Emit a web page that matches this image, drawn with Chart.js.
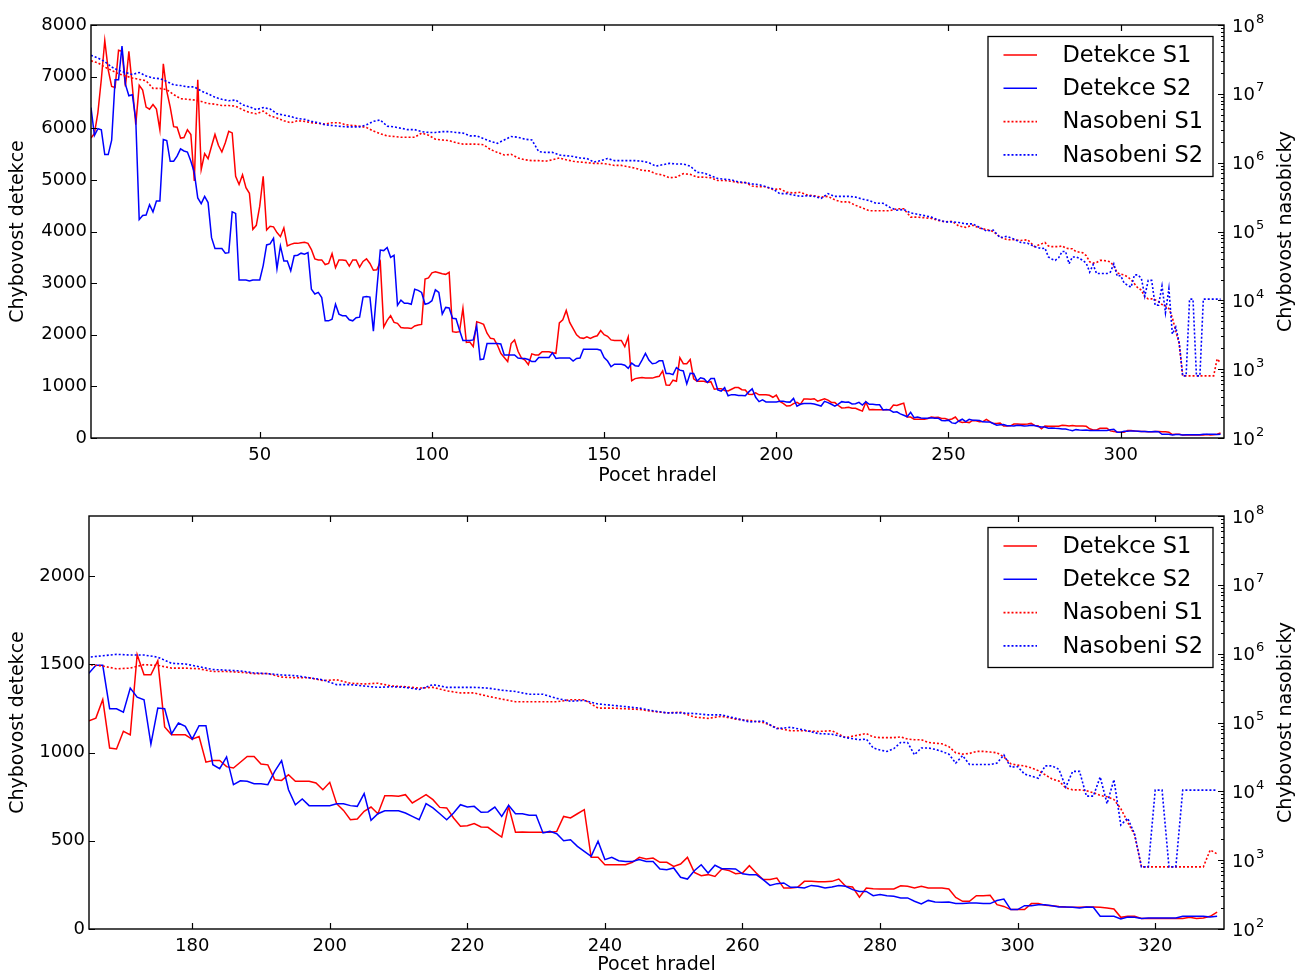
<!DOCTYPE html>
<html>
<head>
<meta charset="utf-8">
<title>Chybovost detekce / nasobicky</title>
<script src="https://cdn.jsdelivr.net/npm/chart.js@4.4.1/dist/chart.umd.min.js"></script>
<style>
  body { margin: 0; background: #fff; }
  .box { position: absolute; left: 0; width: 1298px; height: 488px; }
</style>
</head>
<body>
<div class="box" style="top:0"><canvas id="top" width="1298" height="488"></canvas></div>
<div class="box" style="top:488px"><canvas id="bottom" width="1298" height="488"></canvas></div>
<script>
// pocet hradel 1..329 (Detekce S1 / S2)
const pocet = [];
for (let i = 1; i <= 329; i++) pocet.push(i);

const detekceS1 = [
  5810, 5900, 6300, 6950, 7700, 7130, 6810, 6790, 7510, 7490,
  6810, 7490, 6810, 6070, 6830, 6740, 6410, 6370, 6460, 6370,
  5970, 7250, 6720, 6410, 6030, 6020, 5810, 5820, 5970, 5880,
  4980, 6940, 5200, 5510, 5410, 5650, 5880, 5670, 5540, 5720,
  5940, 5910, 5070, 4910, 5100, 4850, 4740, 4040, 4120, 4490,
  5070, 4030, 4100, 4090, 3980, 3900, 4070, 3720, 3750, 3770,
  3770, 3780, 3790, 3770, 3650, 3470, 3450, 3450, 3360, 3380,
  3570, 3300, 3450, 3450, 3440, 3330, 3450, 3450, 3310, 3420,
  3470, 3380, 3250, 3260, 3410, 2150, 2280, 2370, 2240, 2220,
  2140, 2130, 2130, 2120, 2170, 2190, 2200, 3080, 3100, 3200,
  3220, 3200, 3180, 3170, 3210, 2060, 2050, 2060, 2510, 1850,
  1860, 1770, 2250, 2230, 2200, 2030, 1930, 1920, 1800, 1640,
  1560, 1480, 1830, 1900, 1680, 1550, 1510, 1420, 1630, 1610,
  1610, 1670, 1670, 1670, 1650, 1640, 2230, 2290, 2470, 2240,
  2120, 2000, 1940, 1930, 1960, 1930, 1960, 1980, 2080, 2000,
  1970, 1900, 1890, 1890, 1890, 1770, 1960, 1110, 1150, 1160,
  1170, 1160, 1160, 1160, 1180, 1195, 1300, 1025, 1020, 1120,
  1100, 1555, 1440, 1440, 1520, 1145, 1100, 1100, 1100, 1075,
  1090, 945, 955, 955, 920, 912, 945, 978, 978, 935,
  930, 846, 842, 874, 837, 837, 837, 827, 789, 831,
  710, 672, 619, 623, 667, 691, 653, 755, 755, 752,
  761, 714, 737, 761, 733, 689, 686, 629, 582, 585,
  597, 578, 576, 548, 521, 695, 548, 550, 548, 548,
  548, 548, 553, 638, 629, 653, 676, 406, 406, 364,
  364, 364, 364, 378, 406, 397, 402, 378, 378, 355,
  368, 406, 321, 302, 308, 298, 340, 332, 313, 317,
  359, 317, 280, 280, 289, 232, 232, 236, 270, 270,
  268, 268, 270, 283, 242, 238, 180, 232, 228, 227,
  227, 227, 245, 242, 232, 242, 232, 232, 232, 227,
  179, 157, 157, 189, 189, 191, 138, 128, 110, 110,
  110, 144, 144, 134, 132, 128, 125, 123, 123, 125,
  125, 123, 119, 113, 66, 72, 72, 60, 59, 59,
  59, 59, 59, 59, 66, 59, 62, 72, 96
];

const detekceS2 = [
  6400, 5860, 5990, 5970, 5490, 5490, 5770, 6940, 6940, 7590,
  6850, 6630, 6650, 6170, 4230, 4310, 4320, 4520, 4380, 4590,
  4590, 5780, 5760, 5360, 5360, 5460, 5600, 5560, 5540, 5360,
  5140, 4650, 4540, 4680, 4560, 3880, 3670, 3670, 3670, 3580,
  3590, 4380, 4350, 3060, 3060, 3060, 3040, 3060, 3060, 3060,
  3340, 3740, 3760, 3870, 3280, 3720, 3430, 3430, 3240, 3530,
  3540, 3580, 3560, 3590, 2880, 2790, 2820, 2720, 2270, 2270,
  2300, 2590, 2400, 2370, 2370, 2290, 2270, 2330, 2340, 2730,
  2740, 2730, 2070, 2880, 3640, 3630, 3690, 3500, 3540, 2570,
  2670, 2610, 2610, 2590, 2880, 2860, 2820, 2590, 2610, 2660,
  2870, 2820, 2400, 2530, 2520, 2320, 2310, 2090, 1890, 1890,
  1890, 1900, 2170, 1520, 1530, 1830, 1830, 1830, 1830, 1820,
  1610, 1610, 1610, 1610, 1550, 1540, 1540, 1520, 1480, 1480,
  1560, 1560, 1560, 1560, 1650, 1540, 1550, 1550, 1550, 1550,
  1490, 1540, 1550, 1720, 1720, 1720, 1720, 1720, 1700, 1560,
  1490, 1380, 1430, 1430, 1430, 1410, 1350, 1450, 1400, 1390,
  1510, 1640, 1510, 1440, 1450, 1494, 1494, 1248, 1248, 1228,
  1365, 1314, 1299, 1048, 1252, 1248, 1105, 1167, 1148, 1076,
  1152, 1152, 931, 908, 975, 818, 840, 837, 823, 823,
  818, 893, 954, 789, 704, 737, 699, 699, 699, 699,
  710, 710, 699, 695, 767, 616, 653, 670, 670, 670,
  657, 638, 619, 710, 686, 653, 619, 657, 704, 691,
  695, 661, 663, 691, 638, 701, 653, 653, 644, 644,
  544, 553, 540, 500, 506, 468, 440, 412, 497, 393,
  406, 387, 383, 383, 393, 383, 383, 340, 336, 346,
  293, 283, 330, 364, 317, 361, 342, 342, 340, 313,
  308, 308, 280, 247, 257, 261, 236, 236, 232, 247,
  242, 232, 238, 247, 242, 223, 213, 213, 189, 195,
  189, 185, 176, 176, 157, 142, 162, 153, 151, 153,
  144, 144, 147, 147, 144, 144, 161, 170, 110, 110,
  132, 132, 138, 138, 132, 125, 125, 123, 119, 125,
  123, 72, 72, 72, 57, 68, 66, 59, 62, 62,
  62, 62, 62, 72, 72, 72, 72, 68, 72
];

// Nasobeni: odd x up to 277, then every x
const nasX = [
  1, 3, 5, 7, 9, 11, 13, 15, 17, 19, 21, 23, 25, 27, 29, 31, 33, 35, 37, 39,
  41, 43, 45, 47, 49, 51, 53, 55, 57, 59, 61, 63, 65, 67, 69, 71, 73, 75, 77, 79,
  81, 83, 85, 87, 89, 91, 93, 95, 97, 99, 101, 103, 105, 107, 109, 111, 113, 115, 117, 119,
  121, 123, 125, 127, 129, 131, 133, 135, 137, 139, 141, 143, 145, 147, 149, 151, 153, 155, 157, 159,
  161, 163, 165, 167, 169, 171, 173, 175, 177, 179, 181, 183, 185, 187, 189, 191, 193, 195, 197, 199,
  201, 203, 205, 207, 209, 211, 213, 215, 217, 219, 221, 223, 225, 227, 229, 231, 233, 235, 237, 239,
  241, 243, 245, 247, 249, 251, 253, 255, 257, 259, 261, 263, 265, 267, 269, 271, 273, 275, 277,
  278, 279, 280, 281, 282, 283, 284, 285, 286, 287, 288, 289, 290, 291, 292, 293, 294, 295, 296, 297,
  298, 299, 300, 301, 302, 303, 304, 305, 306, 307, 308, 309, 310, 311, 312, 313, 314, 315, 316, 317,
  318, 319, 320, 321, 322, 323, 324, 325, 326, 327, 328, 329
];

const nasobeniS1 = [
  3.02e7, 2.82e7, 2.45e7, 2.19e7, 1.95e7, 1.82e7, 1.70e7, 1.62e7, 1.55e7, 1.20e7,
  1.20e7, 1.15e7, 9.77e6, 8.51e6, 8.32e6, 8.13e6, 7.76e6, 7.24e6, 7.08e6, 6.76e6,
  6.76e6, 6.61e6, 5.89e6, 5.37e6, 5.13e6, 5.62e6, 4.79e6, 4.47e6, 4.07e6, 3.80e6,
  4.07e6, 3.98e6, 3.80e6, 3.72e6, 3.63e6, 3.80e6, 3.80e6, 3.55e6, 3.47e6, 3.39e6,
  3.24e6, 2.88e6, 2.63e6, 2.45e6, 2.40e6, 2.34e6, 2.34e6, 2.34e6, 2.69e6, 2.51e6,
  2.19e6, 2.14e6, 2.09e6, 1.95e6, 1.86e6, 1.86e6, 1.86e6, 1.82e6, 1.55e6, 1.41e6,
  1.29e6, 1.32e6, 1.17e6, 1.10e6, 1.07e6, 1.07e6, 1.05e6, 1.10e6, 1.17e6, 1.10e6,
  1.05e6, 1.02e6, 1.00e6, 9.77e5, 9.77e5, 9.55e5, 9.12e5, 9.12e5, 8.71e5, 8.32e5,
  7.76e5, 7.59e5, 6.92e5, 6.61e5, 6.03e5, 6.17e5, 6.92e5, 6.76e5, 6.17e5, 6.17e5,
  6.03e5, 5.50e5, 5.50e5, 5.37e5, 5.13e5, 5.13e5, 4.57e5, 4.47e5, 4.47e5, 4.07e5,
  4.17e5, 3.72e5, 3.63e5, 3.72e5, 3.39e5, 3.31e5, 3.16e5, 3.24e5, 2.88e5, 2.69e5,
  2.69e5, 2.40e5, 2.19e5, 2.00e5, 2.00e5, 2.00e5, 2.00e5, 2.14e5, 2.14e5, 1.62e5,
  1.62e5, 1.58e5, 1.55e5, 1.45e5, 1.38e5, 1.41e5, 1.20e5, 1.15e5, 1.23e5, 1.12e5,
  1.07e5, 1.00e5, 8.32e4, 7.59e4, 7.59e4, 7.41e4, 7.59e4, 6.03e4, 6.61e4,
  6.92e4, 6.17e4, 6.03e4, 6.03e4, 6.03e4, 6.17e4, 5.75e4, 5.62e4, 5.62e4, 5.13e4,
  5.01e4, 4.90e4, 4.47e4, 3.63e4, 3.47e4, 3.55e4, 3.80e4, 3.80e4, 3.72e4, 3.63e4,
  3.16e4, 2.51e4, 2.40e4, 2.34e4, 2.19e4, 2.00e4, 1.74e4, 1.51e4, 1.41e4, 1.12e4,
  1.05e4, 1.05e4, 1.02e4, 9550, 8710, 8320, 7590, 5620, 3550, 2340,
  800, 800, 800, 800, 800, 800, 800, 800, 800, 800, 1410, 1230
];

const nasobeniS2 = [
  3.63e7, 3.31e7, 2.95e7, 2.45e7, 2.19e7, 2.04e7, 1.91e7, 2.04e7, 1.82e7, 1.70e7,
  1.66e7, 1.51e7, 1.35e7, 1.32e7, 1.26e7, 1.26e7, 1.10e7, 1.00e7, 8.91e6, 8.32e6,
  7.94e6, 8.13e6, 6.92e6, 6.46e6, 5.89e6, 6.31e6, 6.03e6, 5.13e6, 4.90e6, 4.68e6,
  4.37e6, 4.27e6, 3.98e6, 3.80e6, 3.55e6, 3.47e6, 3.39e6, 3.31e6, 3.31e6, 3.31e6,
  3.55e6, 3.98e6, 4.17e6, 3.39e6, 3.31e6, 3.16e6, 3.02e6, 3.02e6, 2.82e6, 2.75e6,
  2.75e6, 2.82e6, 2.82e6, 2.75e6, 2.69e6, 2.45e6, 2.45e6, 2.24e6, 2.04e6, 1.91e6,
  2.14e6, 2.40e6, 2.34e6, 2.19e6, 2.14e6, 1.45e6, 1.41e6, 1.41e6, 1.29e6, 1.26e6,
  1.23e6, 1.17e6, 1.15e6, 1.02e6, 1.07e6, 1.15e6, 1.07e6, 1.07e6, 1.07e6, 1.07e6,
  1.05e6, 1.00e6, 8.91e5, 9.33e5, 9.77e5, 9.55e5, 9.55e5, 8.91e5, 7.24e5, 7.08e5,
  6.46e5, 5.89e5, 5.75e5, 5.62e5, 5.25e5, 5.13e5, 4.90e5, 4.79e5, 4.47e5, 4.17e5,
  3.55e5, 3.55e5, 3.39e5, 3.24e5, 3.31e5, 3.24e5, 3.02e5, 3.55e5, 3.24e5, 3.24e5,
  3.24e5, 3.16e5, 2.95e5, 2.82e5, 2.57e5, 2.57e5, 2.24e5, 2.04e5, 2.09e5, 1.86e5,
  1.78e5, 1.70e5, 1.62e5, 1.48e5, 1.38e5, 1.38e5, 1.35e5, 1.29e5, 1.29e5, 1.15e5,
  1.02e5, 1.05e5, 8.13e4, 8.51e4, 7.76e4, 6.92e4, 6.76e4, 6.03e4, 5.62e4,
  5.75e4, 4.27e4, 3.98e4, 3.80e4, 4.17e4, 5.13e4, 5.13e4, 3.39e4, 4.27e4, 4.27e4,
  4.07e4, 3.80e4, 3.47e4, 2.57e4, 3.31e4, 2.45e4, 2.45e4, 2.45e4, 2.45e4, 2.57e4,
  3.39e4, 2.24e4, 2.29e4, 1.78e4, 1.66e4, 1.55e4, 2.34e4, 2.34e4, 2.09e4, 1.15e4,
  1.95e4, 1.95e4, 8510, 8510, 1.62e4, 6610, 1.48e4, 3240, 4070, 2400,
  800, 800, 1.04e4, 1.04e4, 800, 800, 1.04e4, 1.04e4, 1.04e4, 1.04e4, 1.04e4, 1.04e4
];

// tick lists
const xTicksTop = [50, 100, 150, 200, 250, 300];
const xTicksBottom = [180, 200, 220, 240, 260, 280, 300, 320];
const yTicksTop = [0, 1000, 2000, 3000, 4000, 5000, 6000, 7000, 8000];
const yTicksBottom = [0, 500, 1000, 1500, 2000];
const logTicks = [1e2, 1e3, 1e4, 1e5, 1e6, 1e7, 1e8];

const FONT = 'DejaVu Sans';

function pts(xs, ys) {
  return xs.map((x, i) => ({x: x, y: ys[i]}));
}

// frame, inward ticks, log labels, right title and legend (matplotlib look)
const decor = {
  id: 'decor',
  afterDraw(chart) {
    const {ctx, chartArea: a, scales} = chart;
    ctx.save();
    ctx.strokeStyle = '#000';
    ctx.lineWidth = 1.2;
    ctx.beginPath();
    scales.x.ticks.forEach(t => {
      const px = Math.round(scales.x.getPixelForValue(t.value)) + 0.5;
      ctx.moveTo(px, a.bottom); ctx.lineTo(px, a.bottom - 6);
      ctx.moveTo(px, a.top); ctx.lineTo(px, a.top + 6);
    });
    scales.y.ticks.forEach(t => {
      const py = Math.round(scales.y.getPixelForValue(t.value)) + 0.5;
      ctx.moveTo(a.left, py); ctx.lineTo(a.left + 6, py);
    });
    const y2 = scales.y2;
    logTicks.forEach((d, i) => {
      const py = Math.round(y2.getPixelForValue(d)) + 0.5;
      ctx.moveTo(a.right, py); ctx.lineTo(a.right - 6, py);
      if (i < logTicks.length - 1) {
        for (let k = 2; k <= 9; k++) {
          const pm = Math.round(y2.getPixelForValue(k * d)) + 0.5;
          ctx.moveTo(a.right, pm); ctx.lineTo(a.right - 3, pm);
        }
      }
    });
    ctx.stroke();
    ctx.lineWidth = 1.4;
    ctx.strokeRect(a.left, a.top, a.right - a.left, a.bottom - a.top);

    // right axis labels 10^n
    ctx.fillStyle = '#000';
    ctx.textAlign = 'left';
    ctx.textBaseline = 'alphabetic';
    logTicks.forEach(d => {
      const py = y2.getPixelForValue(d);
      ctx.font = '18px "' + FONT + '"';
      ctx.fillText('10', a.right + 8, py + 6.5);
      const w = ctx.measureText('10').width;
      ctx.font = '13px "' + FONT + '"';
      ctx.fillText(String(Math.round(Math.log10(d))), a.right + 8 + w + 1, py - 2.5);
    });

    // right axis title
    ctx.save();
    ctx.font = '19px "' + FONT + '"';
    ctx.textAlign = 'center';
    ctx.textBaseline = 'middle';
    ctx.translate(1286, (a.top + a.bottom) / 2);
    ctx.rotate(-Math.PI / 2);
    ctx.fillText('Chybovost nasobicky', 0, 0);
    ctx.restore();

    // legend box
    const bw = 225, bh = 140;
    const bx = a.right - 11 - bw, by = a.top + 11.5;
    ctx.fillStyle = '#fff';
    ctx.fillRect(bx, by, bw, bh);
    ctx.lineWidth = 1.3;
    ctx.strokeStyle = '#000';
    ctx.strokeRect(bx, by, bw, bh);
    ctx.font = '22.5px "' + FONT + '"';
    ctx.textBaseline = 'middle';
    ctx.textAlign = 'left';
    chart.data.datasets.forEach((ds, i) => {
      const ly = by + 18.5 + i * 33.3;
      ctx.beginPath();
      ctx.strokeStyle = ds.borderColor;
      ctx.lineWidth = ds.borderWidth;
      ctx.setLineDash(ds.borderDash || []);
      ctx.moveTo(bx + 15.5, ly); ctx.lineTo(bx + 49, ly);
      ctx.stroke();
      ctx.setLineDash([]);
      ctx.fillStyle = '#000';
      ctx.fillText(ds.label, bx + 74.5, ly + 1);
    });
    ctx.restore();
  }
};

function makeChart(id, cfg) {
  const tickFont = {family: FONT, size: 18};
  const titleFont = {family: FONT, size: 19};
  return new Chart(document.getElementById(id), {
    type: 'line',
    data: {
      datasets: [
        {label: 'Detekce S1', data: pts(pocet, detekceS1), yAxisID: 'y', borderColor: '#ff0000', borderWidth: 1.5, order: 4},
        {label: 'Detekce S2', data: pts(pocet, detekceS2), yAxisID: 'y', borderColor: '#0000ff', borderWidth: 1.5, order: 3},
        {label: 'Nasobeni S1', data: pts(nasX, nasobeniS1), yAxisID: 'y2', borderColor: '#ff0000', borderWidth: 1.6, borderDash: [2, 2], order: 2},
        {label: 'Nasobeni S2', data: pts(nasX, nasobeniS2), yAxisID: 'y2', borderColor: '#0000ff', borderWidth: 1.6, borderDash: [2, 2], order: 1}
      ]
    },
    options: {
      responsive: false,
      animation: false,
      events: [],
      elements: {point: {radius: 0}, line: {tension: 0}},
      layout: {padding: {top: cfg.padTop, left: 0, right: 0, bottom: 0}},
      plugins: {legend: {display: false}, tooltip: {enabled: false}},
      scales: {
        x: {
          type: 'linear', min: cfg.xMin, max: 330,
          grid: {display: false, drawTicks: false}, border: {display: false},
          ticks: {font: tickFont, color: '#000', padding: 7, autoSkip: false, maxRotation: 0, callback: v => String(v)},
          afterBuildTicks: s => { s.ticks = cfg.xTicks.map(v => ({value: v})); },
          afterFit: s => { s.height = cfg.xHeight; },
          title: {display: true, text: 'Pocet hradel', color: '#000', font: titleFont, padding: {top: 0, bottom: cfg.xTitlePad}}
        },
        y: {
          type: 'linear', position: 'left', min: 0, max: cfg.yMax,
          grid: {display: false, drawTicks: false}, border: {display: false},
          ticks: {font: tickFont, color: '#000', padding: 4, autoSkip: false, callback: v => String(v)},
          afterBuildTicks: s => { s.ticks = cfg.yTicks.map(v => ({value: v})); },
          afterFit: s => { s.width = cfg.yWidth; },
          title: {display: true, text: 'Chybovost detekce', color: '#000', font: titleFont, padding: {top: 7, bottom: 0}}
        },
        y2: {
          type: 'logarithmic', position: 'right', min: 1e2, max: 1e8,
          grid: {display: false, drawTicks: false}, border: {display: false},
          ticks: {display: false},
          afterBuildTicks: s => { s.ticks = logTicks.map(v => ({value: v})); },
          afterFit: s => { s.width = 74; }
        }
      }
    },
    plugins: [decor]
  });
}

makeChart('top', {xMin: 1, xTicks: xTicksTop, yMax: 8000, yTicks: yTicksTop, padTop: 25, xHeight: 50, yWidth: 91, xTitlePad: 1});
makeChart('bottom', {xMin: 165, xTicks: xTicksBottom, yMax: 2340, yTicks: yTicksBottom, padTop: 28, xHeight: 47, yWidth: 89, xTitlePad: 0});
</script>
</body>
</html>
